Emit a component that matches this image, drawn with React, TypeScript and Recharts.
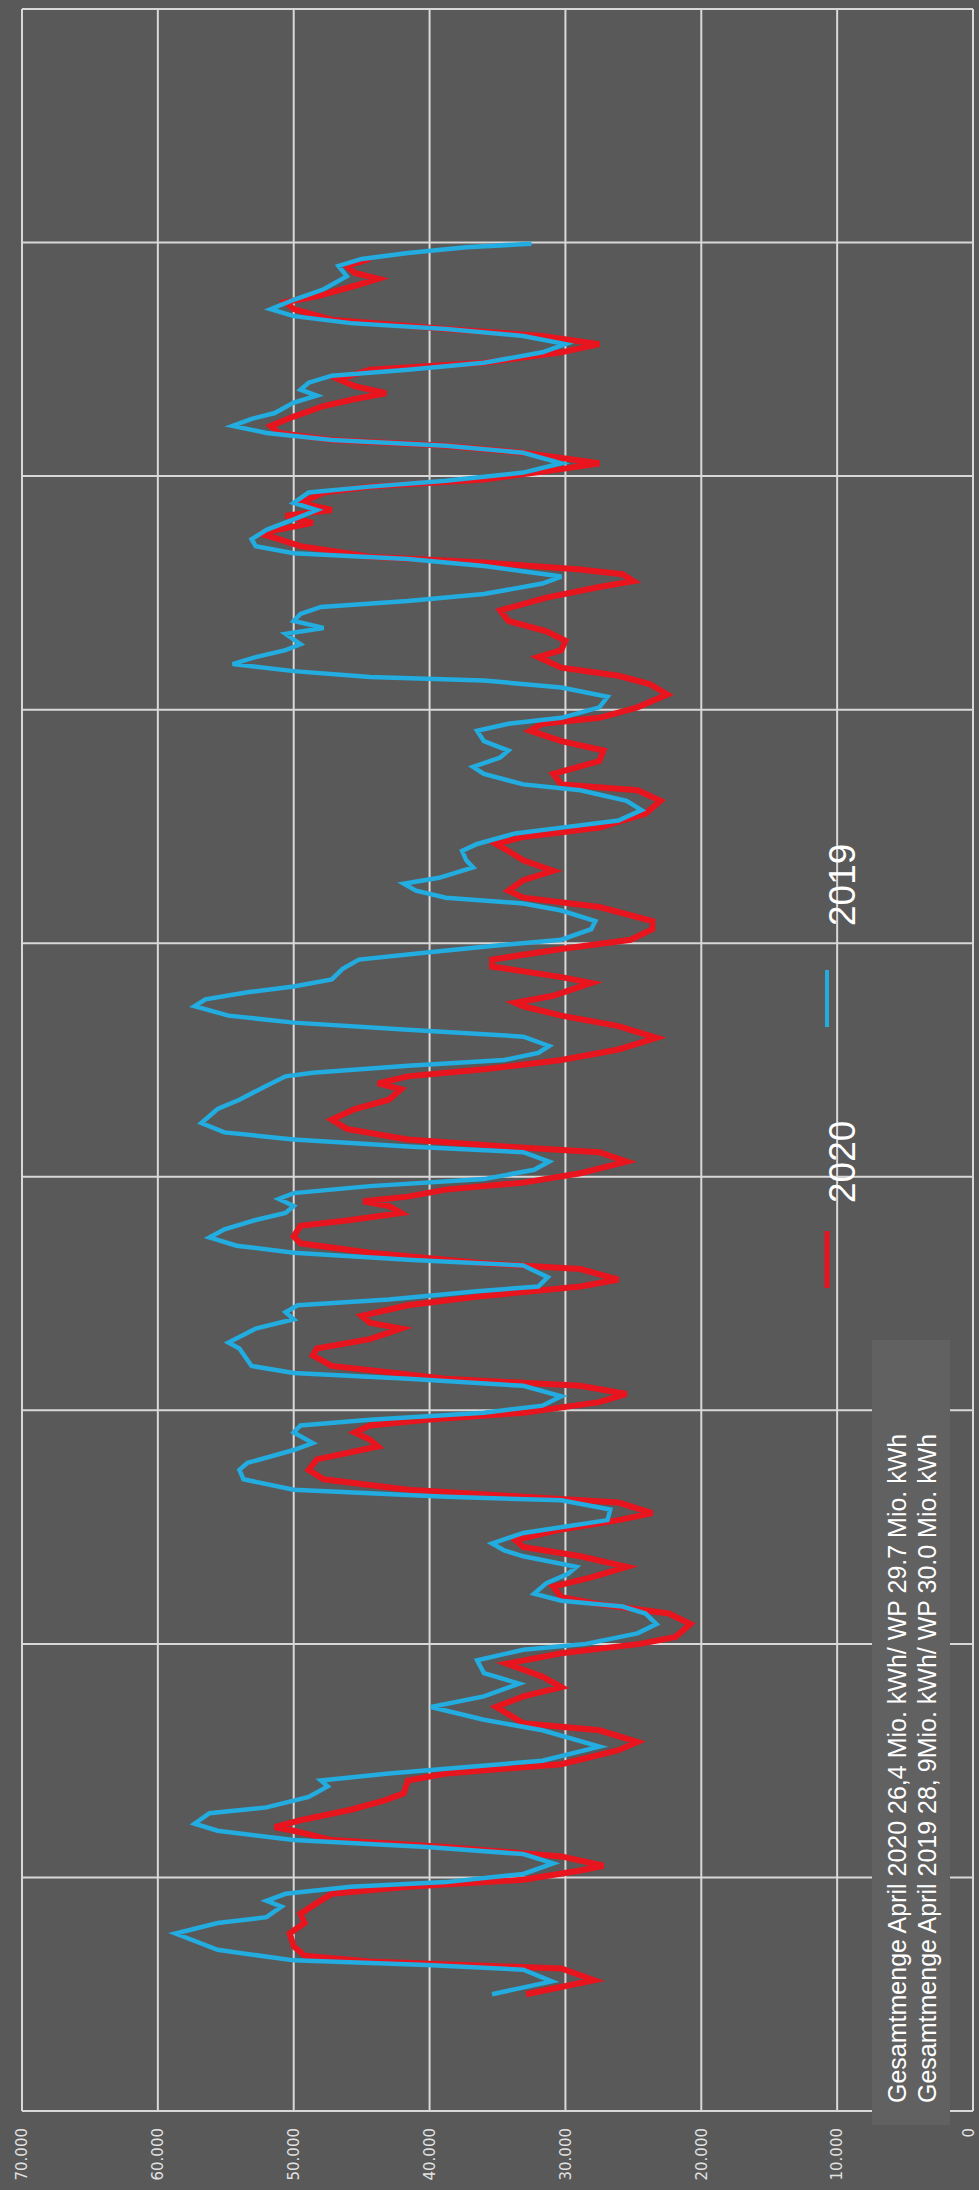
import React from 'react';
import { LineChart, Line, XAxis, YAxis, CartesianGrid, Legend } from 'recharts';

// ---- data (time in days of the displayed period, load in kW) ----
const DAYS_2019 = [
  1.0, 1.11, 1.21, 1.25, 1.29, 1.38, 1.52, 1.61, 1.66, 1.75, 1.8, 1.86, 1.92, 1.96,
  2.03, 2.12, 2.2, 2.26, 2.32, 2.4, 2.46, 2.55, 2.6, 2.69, 2.78, 2.83, 2.89, 2.93,
  3.0, 3.12, 3.26, 3.35, 3.46, 3.55, 3.66, 3.75, 3.86, 3.95,
  4.0, 4.09, 4.17, 4.26, 4.32, 4.37, 4.43, 4.52, 4.6, 4.66, 4.75, 4.8, 4.86, 4.95,
  5.06, 5.15, 5.23, 5.26, 5.32, 5.41, 5.49, 5.55, 5.66, 5.72, 5.81, 5.87, 5.92, 5.98,
  6.04, 6.12, 6.21, 6.27, 6.32, 6.38, 6.53, 6.58, 6.7, 6.78, 6.84, 6.9, 6.95,
  7.02, 7.06, 7.14, 7.24, 7.29, 7.35, 7.41, 7.48, 7.55, 7.63, 7.69, 7.75, 7.81, 7.86, 7.92, 7.98,
  8.06, 8.13, 8.21, 8.26, 8.32, 8.38, 8.46, 8.58, 8.66, 8.78, 8.86, 8.89, 8.95,
  9.0, 9.06, 9.12, 9.2, 9.26, 9.32, 9.38, 9.46, 9.52, 9.58, 9.63, 9.69, 9.78, 9.86, 9.92, 9.97,
  10.03, 10.12, 10.19, 10.28, 10.34, 10.39, 10.45, 10.51, 10.56, 10.65, 10.71, 10.79, 10.85, 10.94, 10.99,
  11.05, 11.14, 11.22, 11.31, 11.36, 11.45, 11.51, 11.59, 11.65, 11.73, 11.82, 11.88, 11.93,
  12.02, 12.11, 12.19, 12.25, 12.28, 12.33, 12.39, 12.45, 12.51, 12.56, 12.65, 12.7, 12.76, 12.82, 12.88, 12.93, 12.99,
  13.08, 13.14, 13.23, 13.29, 13.34, 13.4, 13.46, 13.54, 13.63, 13.71, 13.77, 13.86, 13.91, 13.96,
  14.03, 14.11, 14.2, 14.26, 14.31, 14.37, 14.43, 14.49, 14.54, 14.63, 14.69, 14.74, 14.8, 14.86, 14.91, 14.97,
  15.06, 15.13, 15.2, 15.26, 15.31, 15.37, 15.43, 15.51, 15.6, 15.71, 15.8, 15.86, 15.91, 15.96, 15.99,
];
const LOAD_2019 = [
  35400, 31000, 33100, 40200, 50000, 55600, 58700, 55600, 52000, 50900, 52000, 50600, 45800, 38800,
  33100, 30900, 33100, 40200, 50000, 55600, 57300, 56200, 52000, 48900, 47500, 48000, 43000, 38800,
  31700, 27500, 31700, 36000, 39900, 36000, 33400, 36000, 36500, 33100,
  28500, 24700, 23300, 24100, 25800, 30300, 32300, 31400, 29800, 29200, 33100, 34500, 35400, 33100,
  26900, 26700, 30300, 38800, 50000, 53700, 54000, 53400, 50000, 48600, 50000, 49500, 44400, 36000,
  31700, 30300, 33100, 41600, 50000, 53100, 54000, 54800, 52800, 50000, 50600, 49700, 43000,
  36500, 32000, 31300, 33100, 41600, 50000, 54200, 56200, 55100, 52800, 50600, 50000, 51100, 50000, 44400, 36000,
  32300, 31200, 33100, 41600, 50000, 55100, 56800, 55600, 54000, 52000, 50600, 48600, 41600,
  34500, 32000, 31200, 33100, 41600, 50000, 54800, 57300, 56500, 53400, 50000, 47200, 46400, 45200, 40200, 36000,
  30300, 28100, 27800, 30300, 33100, 38800, 41000, 41900, 39300, 36800, 37300, 37600, 36500, 33700, 30300,
  26100, 24400, 25500, 28900, 33100, 36000, 36800, 34800, 34200, 36000, 36500, 34200, 30300,
  27500, 26900, 30300, 36000, 44400, 50000, 54500, 52800, 50600, 49500, 50600, 47800, 50000, 49500, 48000, 41600, 36000,
  31700, 30300, 36000, 41600, 50000, 52800, 53100, 52000, 50000, 48300, 50000, 48900, 44400, 38800,
  33100, 30300, 33100, 38800, 47200, 52000, 54500, 53100, 51400, 50000, 48300, 49500, 48900, 47200, 41600, 36000,
  31700, 30000, 33100, 38800, 45800, 50000, 51700, 50000, 47800, 46100, 46700, 45000, 41600, 37300, 32500,
];

const DAYS_2020 = [
  1.0, 1.12, 1.22, 1.28, 1.33, 1.41, 1.52, 1.61, 1.69, 1.78, 1.86, 1.92, 1.98,
  2.06, 2.1, 2.18, 2.26, 2.32, 2.4, 2.43, 2.49, 2.58, 2.66, 2.72, 2.83, 2.89, 2.97,
  3.09, 3.16, 3.26, 3.32, 3.46, 3.55, 3.63, 3.72, 3.83, 3.92,
  4.0, 4.06, 4.17, 4.26, 4.34, 4.4, 4.49, 4.57, 4.66, 4.75, 4.83, 4.89, 4.98,
  5.06, 5.12, 5.21, 5.26, 5.32, 5.41, 5.49, 5.58, 5.69, 5.75, 5.81, 5.87, 5.92, 5.98,
  6.07, 6.14, 6.21, 6.27, 6.38, 6.47, 6.53, 6.61, 6.7, 6.75, 6.81, 6.9, 6.98,
  7.06, 7.12, 7.21, 7.26, 7.35, 7.43, 7.49, 7.58, 7.63, 7.69, 7.75, 7.79, 7.83, 7.89, 7.95,
  8.03, 8.13, 8.21, 8.26, 8.32, 8.41, 8.49, 8.58, 8.66, 8.75, 8.8, 8.86, 8.92,
  9.0, 9.09, 9.19, 9.29, 9.38, 9.46, 9.49, 9.55, 9.66, 9.71, 9.8, 9.86, 9.95,
  10.03, 10.12, 10.19, 10.31, 10.39, 10.45, 10.54, 10.62, 10.71, 10.79, 10.85, 10.91, 10.99,
  11.11, 11.22, 11.31, 11.36, 11.45, 11.56, 11.65, 11.73, 11.82, 11.88, 11.93,
  12.02, 12.13, 12.22, 12.29, 12.36, 12.45, 12.51, 12.59, 12.67, 12.76, 12.85, 12.96,
  13.05, 13.1, 13.16, 13.2, 13.26, 13.31, 13.4, 13.46, 13.51, 13.6, 13.66, 13.71, 13.77, 13.86, 13.91, 13.97,
  14.06, 14.11, 14.2, 14.26, 14.31, 14.37, 14.43, 14.51, 14.6, 14.66, 14.71, 14.77, 14.83, 14.91, 14.97,
  15.06, 15.13, 15.2, 15.26, 15.34, 15.43, 15.49, 15.54, 15.63, 15.69, 15.74, 15.8, 15.86,
];
const LOAD_2020 = [
  32900, 27900, 30300, 44400, 49200, 50000, 50300, 49200, 49500, 48300, 47200, 41600, 33100,
  28900, 27200, 30300, 38800, 47200, 50000, 51400, 49500, 45800, 43300, 41900, 41600, 38800, 30300,
  26100, 24700, 27500, 33100, 35100, 33100, 30300, 31700, 34300, 30300,
  24500, 21900, 20800, 22400, 27500, 30300, 30900, 28100, 25500, 28900, 33100, 33700, 30300,
  26100, 23600, 26100, 33100, 41600, 47800, 48900, 48300, 43800, 44400, 45500, 44400, 40200, 33100,
  27500, 25500, 28900, 38800, 47200, 48600, 48300, 44400, 42100, 44400, 45000, 41600, 36000,
  28900, 26100, 28900, 36000, 44400, 49500, 50000, 49500, 45800, 42100, 43000, 44900, 41600, 38800, 33100,
  28900, 25500, 27500, 34500, 41600, 46100, 47200, 45500, 43000, 42100, 43800, 41600, 36000,
  30300, 26100, 23300, 26100, 30300, 33100, 33700, 30900, 28100, 30300, 35400, 35400, 30300,
  25200, 23600, 23600, 27500, 33100, 34200, 33100, 30900, 33100, 34200, 35100, 33100, 27500,
  24100, 23000, 24700, 30300, 30900, 27500, 27200, 30300, 32600, 31700, 27500,
  24700, 22500, 23800, 26100, 30300, 32000, 30300, 30000, 31400, 34200, 34800, 31400,
  27500, 25000, 25800, 28900, 36000, 44400, 49500, 51100, 52500, 48600, 50600, 47200, 49500, 47800, 44400, 36000,
  30300, 27500, 33100, 38800, 47200, 51100, 51700, 50000, 47800, 45500, 43200, 45500, 46700, 44400, 36000,
  30300, 27500, 31700, 38800, 47200, 50000, 50600, 48300, 45500, 43800, 45500, 46100, 44400,
];

const VALUE_TICKS = [0, 10000, 20000, 30000, 40000, 50000, 60000, 70000];
const DAY_TICKS = [0, 2, 4, 6, 8, 10, 12, 14, 16, 18];
const SERIES_2020 = '2020';
const SERIES_2019 = '2019';
const LEGEND_ORDER = [SERIES_2020, SERIES_2019];
const NOTE_LINES = [
  'Gesamtmenge April 2020 26,4 Mio. kWh/ WP 29.7 Mio. kWh',
  'Gesamtmenge April 2019 28, 9Mio. kWh/ WP 30.0 Mio. kWh',
];

const data2019 = DAYS_2019.map((t, i) => ({ t, v: LOAD_2019[i] }));
const data2020 = DAYS_2020.map((t, i) => ({ t, v: LOAD_2020[i] }));

// ---- styling ----
const PAGE_W = 979;
const PAGE_H = 2190;
const BG = '#595959';
const GRID = '#d8d8d8';
const RED = '#e8141e';
const BLUE = '#22acdf';

const fmtValue = (v: number) =>
  v === 0 ? '0' : String(v).replace(/\B(?=(\d{3})+(?!\d))/g, '.');

const LEGEND_MARK_X = [0, 261];
const LEGEND_TEXT_X = [85, 362];

const renderLegend = (props: any) => {
  const payload: any[] = props.payload || [];
  const items = LEGEND_ORDER.map((name) => payload.find((p) => p.value === name)).filter(Boolean);
  return (
    <div style={{ position: 'relative', width: 460, height: 50 }}>
      {items.map((p: any, i: number) => (
        <React.Fragment key={p.value}>
          <svg
            width={57}
            height={10}
            style={{ position: 'absolute', left: LEGEND_MARK_X[i], top: 12 }}
          >
            <line x1={0} y1={5} x2={57} y2={5} stroke={p.color} strokeWidth={i === 0 ? 5 : 4} />
          </svg>
          <span
            style={{
              position: 'absolute',
              left: LEGEND_TEXT_X[i],
              top: 14,
              fontFamily: '"Liberation Sans", Arial, sans-serif',
              fontSize: 37,
              lineHeight: '37px',
              color: '#ffffff',
              whiteSpace: 'nowrap',
            }}
          >
            {p.value}
          </span>
        </React.Fragment>
      ))}
    </div>
  );
};

const NoTick = () => <g />;

// value tick; the edge label (0) is nudged inward so it stays inside the page
const ValueTick = (props: any) => {
  const { x, y, payload } = props;
  const nudge = payload.value === 0 ? -4 : 0;
  return (
    <text
      x={x}
      y={y + nudge}
      dy="0.355em"
      textAnchor="end"
      fill="#e2e2e2"
      fontSize={15}
      fontFamily='"DejaVu Sans", sans-serif'
    >
      {fmtValue(payload.value)}
    </text>
  );
};

export default function App() {
  return (
    <div
      style={{
        position: 'absolute',
        left: 0,
        top: 0,
        width: PAGE_W,
        height: PAGE_H,
        overflow: 'hidden',
        background: BG,
      }}
    >
      <div
        style={{
          position: 'absolute',
          left: 0,
          top: 0,
          width: PAGE_H,
          height: PAGE_W,
          transformOrigin: '0 0',
          transform: `translateY(${PAGE_H}px) rotate(-90deg)`,
        }}
      >
        <LineChart width={PAGE_H} height={PAGE_W} margin={{ top: 22, right: 9, bottom: 0, left: 0 }}>
          <CartesianGrid stroke={GRID} strokeWidth={2} />
          <XAxis
            type="number"
            dataKey="t"
            domain={[0, 18]}
            ticks={DAY_TICKS}
            interval={0}
            tick={<NoTick />}
            tickLine={false}
            axisLine={false}
            height={6}
            allowDataOverflow
          />
          <YAxis
            type="number"
            domain={[0, 70000]}
            ticks={VALUE_TICKS}
            interval={0}
            width={79}
            tickLine={false}
            tickSize={6}
            tickMargin={11}
            tick={<ValueTick />}
            axisLine={{ stroke: GRID, strokeWidth: 2 }}
            allowDataOverflow
          />
          <Line
            data={data2020}
            dataKey="v"
            name={SERIES_2020}
            type="linear"
            stroke={RED}
            strokeWidth={6}
            dot={false}
            activeDot={false}
            isAnimationActive={false}
          />
          <Line
            data={data2019}
            dataKey="v"
            name={SERIES_2019}
            type="linear"
            stroke={BLUE}
            strokeWidth={4.5}
            dot={false}
            activeDot={false}
            isAnimationActive={false}
          />
          <Legend
            layout="horizontal"
            verticalAlign="middle"
            align="center"
            content={renderLegend}
            wrapperStyle={{ left: 902, top: 810, width: 460, height: 50 }}
          />
        </LineChart>
        <div
          style={{
            position: 'absolute',
            left: 65,
            top: 872,
            width: 785,
            height: 78,
            background: '#616161',
          }}
        >
          {NOTE_LINES.map((line, i) => (
            <div
              key={i}
              style={{
                position: 'absolute',
                left: 22,
                top: 10 + i * 30,
                fontFamily: '"Liberation Sans", Arial, sans-serif',
                fontSize: 25,
                lineHeight: '30px',
                color: '#ffffff',
                whiteSpace: 'nowrap',
              }}
            >
              {line}
            </div>
          ))}
        </div>
      </div>
    </div>
  );
}
